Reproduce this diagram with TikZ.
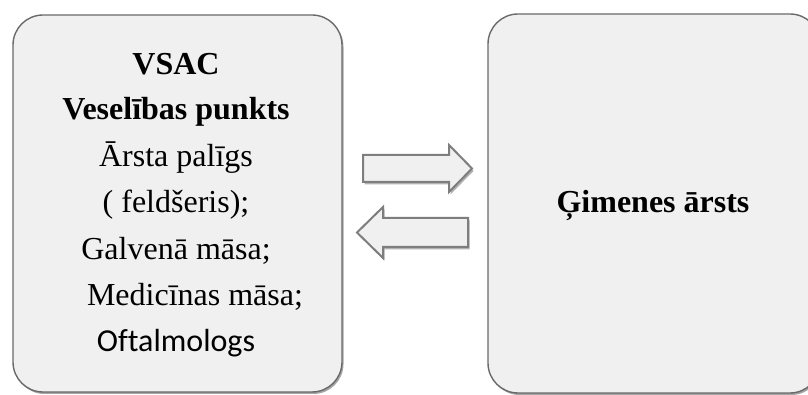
\documentclass[tikz,border=0pt]{standalone}
\usepackage{fontspec}
\setmainfont{Liberation Serif}
\newfontfamily\calfont[Ligatures=NoCommon]{Carlito}
\usetikzlibrary{shadows}
\definecolor{boxfill}{HTML}{F0F0F0}
\definecolor{boxline}{HTML}{6A6A6A}
\definecolor{arrowline}{HTML}{7E7E7E}
\begin{document}
\begin{tikzpicture}[x=1pt,y=1pt,
  panel/.style={draw=boxline, line width=1.4pt, fill=boxfill, rounded corners=30pt,
    inner sep=0pt, drop shadow={shadow xshift=1.5pt, shadow yshift=-2pt, opacity=0.35, fill=black}},
  blockarrow/.style={draw=arrowline, line width=2pt, fill=boxfill, line join=miter,
    drop shadow={shadow xshift=1.5pt, shadow yshift=-2.5pt, opacity=0.3, fill=black}},
  line/.style={anchor=base, inner sep=0pt, font=\fontsize{32}{36}\selectfont},
  bline/.style={line, font=\fontsize{32}{36}\selectfont\bfseries}]
\path[use as bounding box] (0,0) rectangle (808,395);
\clip (0,0) rectangle (808,395);
\fill[white] (0,0) rectangle (808,395);

% two panels
\node[panel, minimum width=329pt, minimum height=377pt] (vsac) at (177.5,191.5) {};
\node[panel, minimum width=332pt, minimum height=379pt] (gim) at (654,191.5) {};

% block arrows between the panels
\draw[blockarrow] (363,240) -- (449,240) -- (449,250) -- (472,226.5) -- (449,203) -- (449,213) -- (363,213) -- cycle;
\draw[blockarrow] (468,177) -- (383,177) -- (383,188) -- (357,162.5) -- (383,137) -- (383,148) -- (468,148) -- cycle;

% left panel text
\node[bline] (t1) at (176,320) {VSAC};
\node[bline] (t2) at (176,275) {Veselības punkts};
\node[line] (t3) at (176,228) {Ārsta palīgs};
\node[line] (t4) at (176,182) {( feldšeris);};
\node[line] (t5) at (176,135) {Galvenā māsa;};
\node[line] (t6) at (195,89) {Medicīnas māsa;};
\node[line, font=\fontsize{32}{36}\selectfont\calfont] (t7) at (176,43) {Oftalmologs};

% right panel text
\node[bline] (g1) at (653,182) {Ģimenes ārsts};
\end{tikzpicture}
\end{document}
